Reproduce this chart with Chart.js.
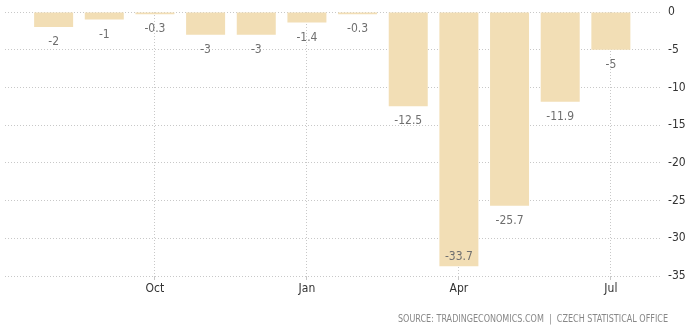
<!DOCTYPE html>
<html><head><meta charset="utf-8">
<script src="https://cdn.jsdelivr.net/npm/chart.js@4/dist/chart.umd.min.js"></script>
<style>html,body{margin:0;padding:0;background:#fff}#wrap{width:686px;height:329px}</style>
</head><body><div id="wrap"><canvas id="c" width="686" height="329"></canvas></div>
<script>
const categories = ['Aug','Sep','Oct','Nov','Dec','Jan','Feb','Mar','Apr','May','Jun','Jul'];
const values = [-2,-1,-0.3,-3,-3,-1.4,-0.3,-12.5,-33.7,-25.7,-11.9,-5];
const xTickIndexes = [2,5,8,11];
const yTicks = [0,-5,-10,-15,-20,-25,-30,-35];
const sourceText = 'SOURCE: TRADINGECONOMICS.COM  |  CZECH STATISTICAL OFFICE';
const FONT = '"DejaVu Sans Condensed", "Liberation Sans", sans-serif';

const labelPlugin = {
  id:'labels',
  afterDatasetsDraw(chart){
    const ctx = chart.ctx, area = chart.chartArea;
    const meta = chart.getDatasetMeta(0);
    ctx.save();
    ctx.font = '12px ' + FONT;
    ctx.fillStyle = '#6f6f6f';
    ctx.textAlign = 'center';
    ctx.textBaseline = 'middle';
    meta.data.forEach((el,i)=>{
      let y = el.y + 15;
      if (y + 7 > area.bottom) y = el.y - 9;
      ctx.fillText(String(values[i]), el.x, y);
    });
    ctx.restore();
  },
  afterDraw(chart){
    const ctx = chart.ctx;
    const ys = chart.scales.y;
    ctx.save();
    ctx.font = '12px ' + FONT;
    ctx.fillStyle = '#333';
    ctx.textAlign = 'left';
    ctx.textBaseline = 'middle';
    yTicks.forEach(v => ctx.fillText(String(v), chart.chartArea.right + 8, ys.getPixelForValue(v)));
    ctx.font = '10px ' + FONT;
    ctx.fillStyle = '#888';
    ctx.textAlign = 'right';
    const w = ctx.measureText(sourceText).width;
    ctx.translate(668, 319);
    ctx.scale(270/w, 1);
    ctx.fillText(sourceText, 0, 0);
    ctx.restore();
  }
};

new Chart(document.getElementById('c'), {
  type:'bar',
  data:{datasets:[{data: values.map((v,i)=>({x:i,y:v})), backgroundColor:'#F2DEB5', borderWidth:0, barPercentage:0.77, categoryPercentage:1}]},
  options:{
    responsive:false, animation:false,
    layout:{padding:{left:5, top:12, right:0, bottom:0}},
    plugins:{legend:{display:false}, tooltip:{enabled:false}},
    scales:{
      x:{type:'linear', min:-0.96, max:11.97, offset:false,
        afterBuildTicks(s){ s.ticks = xTickIndexes.map(v=>({value:v})); },
        afterFit(s){ s.height = 53; },
        ticks:{callback:(v)=>categories[v], color:'#333', font:{family:FONT, size:12}, padding:2, maxRotation:0, autoSkip:false},
        grid:{offset:false, color:'#c8c8c8', tickLength:4, drawTicks:true},
        border:{display:false, dash:[1,2]}
      },
      y:{position:'right', min:-35, max:0,
        afterBuildTicks(s){ s.ticks = yTicks.map(v=>({value:v})); },
        afterFit(s){ s.width = 26; },
        ticks:{display:false},
        grid:{color:'#c8c8c8', drawTicks:false},
        border:{display:false, dash:[1,2]}
      }
    }
  },
  plugins:[labelPlugin]
});
</script></body></html>
